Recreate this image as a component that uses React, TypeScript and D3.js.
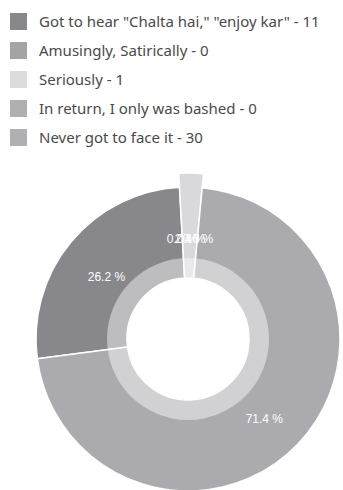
import React from "react";
import * as d3 from "d3";

const categories = [
  'Got to hear "Chalta hai," "enjoy kar"',
  "Amusingly, Satirically",
  "Seriously",
  "In return, I only was bashed",
  "Never got to face it",
];
const values = [11, 0, 1, 0, 30];
const colors = ["#88888c", "#a2a2a6", "#d9d9db", "#ababaf", "#ababaf"];
const legendColors = ["#88888a", "#a4a4a6", "#dcdcdd", "#b0b0b2", "#b0b0b2"];
const slicedIndex = 2;

const W = 343;
const H = 490;
const cx = 188;
const cy = 339;
const rOuter = 152;
const rSliced = 166;
const rHole = 61;
const rBand = 81;
const rLabel = 106;
const labelDy = 6;
const startDeg = -97.5;

export default function App() {
  const total = d3.sum(values);
  const pie = d3
    .pie<number>()
    .sort(null)
    .startAngle((startDeg * Math.PI) / 180)
    .endAngle((startDeg * Math.PI) / 180 + 2 * Math.PI)
    .value((d) => d);
  const arcs = pie(values);
  const arcGen = d3.arc<d3.PieArcDatum<number>>();
  return (
    <svg
      width={W}
      height={H}
      style={{ position: "absolute", left: 0, top: 0, background: "#fff" }}
    >
      <g>
        {categories.map((c, i) => (
          <g key={i} transform={`translate(10, ${13 + i * 29})`}>
            <rect width={17} height={17} fill={legendColors[i]} />
            <text
              x={29}
              y={14}
              fontFamily="'Noto Sans', 'Open Sans', sans-serif"
              fontSize={15}
              fill="#4a4a4a"
            >
              {`${c} - ${values[i]}`}
            </text>
          </g>
        ))}
      </g>
      <g transform={`translate(${cx},${cy})`}>
        {arcs.map((a, i) =>
          a.value > 0 ? (
            <path
              key={i}
              d={
                arcGen({
                  ...a,
                  innerRadius: rHole,
                  outerRadius: i === slicedIndex ? rSliced : rOuter,
                } as any) || ""
              }
              fill={colors[i]}
              stroke="#fff"
              strokeWidth={1.5}
              strokeLinejoin="round"
            />
          ) : null
        )}
        <path
          d={
            d3.arc()({
              innerRadius: rHole,
              outerRadius: rBand,
              startAngle: 0,
              endAngle: 2 * Math.PI,
            } as any) || ""
          }
          fill="#ffffff"
          fillOpacity={0.45}
        />
        {arcs.map((a, i) => {
          const m = (a.startAngle + a.endAngle) / 2;
          const x = Math.sin(m) * rLabel;
          const y = -Math.cos(m) * rLabel + labelDy;
          return (
            <text
              key={i}
              x={x}
              y={y}
              textAnchor="middle"
              dominantBaseline="central"
              fontFamily="'Liberation Sans', Arial, sans-serif"
              fontSize={12}
              fill="#ffffff"
            >
              {`${((a.value / total) * 100).toFixed(1)} %`}
            </text>
          );
        })}
      </g>
    </svg>
  );
}
